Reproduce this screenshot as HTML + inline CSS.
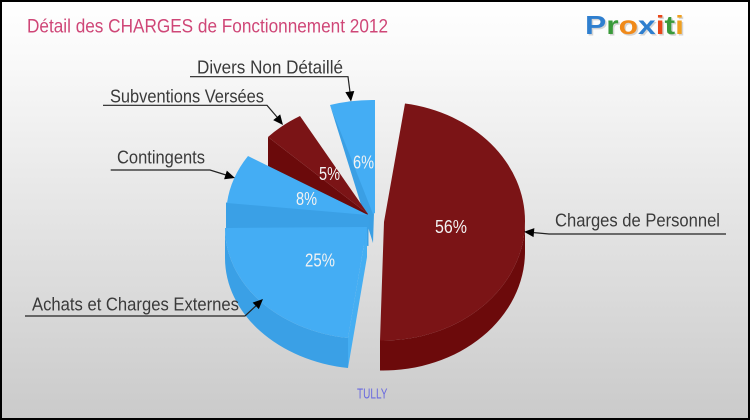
<!DOCTYPE html>
<html><head><meta charset="utf-8"><style>
html,body{margin:0;padding:0;background:#fff}
svg{display:block}
text{font-family:"Liberation Sans",sans-serif}
</style></head><body>
<svg width="750" height="420" viewBox="0 0 750 420" xmlns="http://www.w3.org/2000/svg">
<defs>
<linearGradient id="bg" x1="0" y1="0" x2="0" y2="1">
<stop offset="0" stop-color="#ffffff"/>
<stop offset="0.12" stop-color="#fafafa"/>
<stop offset="1" stop-color="#cacaca"/>
</linearGradient>
</defs>
<rect x="0" y="0" width="750" height="420" fill="url(#bg)"/>
<rect x="1" y="1" width="748" height="418" fill="none" stroke="#000" stroke-width="2"/>

<text x="27" y="32.3" font-size="19" fill="#cf4677" textLength="361" lengthAdjust="spacingAndGlyphs">Détail des CHARGES de Fonctionnement 2012</text>

<g font-size="26" font-weight="bold" style="font-family:'DejaVu Sans','Liberation Sans',sans-serif">
<text x="585" y="34" fill="#bbb" opacity="0.6" textLength="99" lengthAdjust="spacingAndGlyphs" transform="translate(1.5,1.5)">Proxiti</text>
<text x="585" y="34" textLength="99" lengthAdjust="spacingAndGlyphs"><tspan fill="#2f7fcf">P</tspan><tspan fill="#3a9a3a">r</tspan><tspan fill="#f08a1a">o</tspan><tspan fill="#2f7fcf">x</tspan><tspan fill="#e8481a">i</tspan><tspan fill="#3a9a3a">t</tspan><tspan fill="#f0a020">i</tspan></text>
</g>

<!-- 6% slice -->
<polygon points="330,105 374,213 373,243" fill="#3a9fe4"/>
<path d="M330,105 A142 111 0 0 1 375,100 L375,213 L373,214 Z" fill="#44adf4"/>

<!-- 5% slice -->
<polygon points="268,137 368,214 368,244 268,167" fill="#6b0a0b"/>
<path d="M368,214 L300,116 A142 111 0 0 0 268,137 Z" fill="#7b1416"/>

<!-- 8% slice -->
<polygon points="226,202.5 368.5,214.5 368.5,246 226,233" fill="#3aa0e6"/>
<path d="M368,215 L248,156 A142 111 0 0 0 227,203 Z" fill="#44adf4"/>

<!-- 25% slice -->
<polygon points="367,227 348,338 348,368 367,257" fill="#45aef2"/>
<path d="M225,228 A142 111 0 0 0 348,338 L348,368 A142 111 0 0 1 225,258 Z" fill="#3aa0e6"/>
<path d="M367,227 L225,228 A142 111 0 0 0 348,338 Z" fill="#44adf4"/>

<!-- 56% slice -->
<path d="M525,221.5 A142 119 0 0 1 380,340.5 L380,370.5 A142 119 0 0 0 525,251.5 Z" fill="#6c0a0b"/>
<path d="M384,222 L405,103.5 A142 119 0 0 1 525,221.5 A142 119 0 0 1 380,340.5 Z" fill="#7b1416"/>

<!-- percentages -->
<g font-size="18" fill="#f2f2f2">
<text x="435" y="233" textLength="32" lengthAdjust="spacingAndGlyphs">56%</text>
<text x="305" y="266.7" textLength="30" lengthAdjust="spacingAndGlyphs">25%</text>
<text x="296" y="205" textLength="21" lengthAdjust="spacingAndGlyphs">8%</text>
<text x="319" y="180" textLength="21" lengthAdjust="spacingAndGlyphs">5%</text>
<text x="353" y="168.3" textLength="21" lengthAdjust="spacingAndGlyphs">6%</text>
</g>

<!-- labels -->
<g font-size="18" fill="#3a3a3a">
<text x="197" y="73.3" textLength="146" lengthAdjust="spacingAndGlyphs">Divers Non Détaillé</text>
<text x="110" y="102.7" textLength="154" lengthAdjust="spacingAndGlyphs">Subventions Versées</text>
<text x="117" y="163.3" textLength="88" lengthAdjust="spacingAndGlyphs">Contingents</text>
<text x="555" y="226.5" textLength="165" lengthAdjust="spacingAndGlyphs">Charges de Personnel</text>
<text x="32" y="310.7" textLength="207" lengthAdjust="spacingAndGlyphs">Achats et Charges Externes</text>
</g>

<!-- leader lines -->
<g stroke="#222" stroke-width="1.2" fill="none">
<polyline points="190,76.7 348,76.7 350,92"/>
<polyline points="103,105.3 267,105.3 277,117"/>
<polyline points="110.7,170 210,170 226,175"/>
<polyline points="726,234 549,234 534,232.6"/>
<polyline points="25,316 245,316 256,305.8"/>
</g>
<g fill="#000">
<polygon points="351,101.5 345.33,92.11 354.27,91.03"/>
<polygon points="283,125 273.21,120.08 280.19,114.4"/>
<polygon points="235,178 224.11,179.23 226.85,170.67"/>
<polygon points="524,231.7 534.37,228.14 533.55,237.1"/>
<polygon points="263,299 258.82,309.14 252.64,302.6"/>
</g>

<text x="357" y="398.3" font-size="15" fill="#6a6adf" textLength="30.5" lengthAdjust="spacingAndGlyphs">TULLY</text>
</svg>
</body></html>
